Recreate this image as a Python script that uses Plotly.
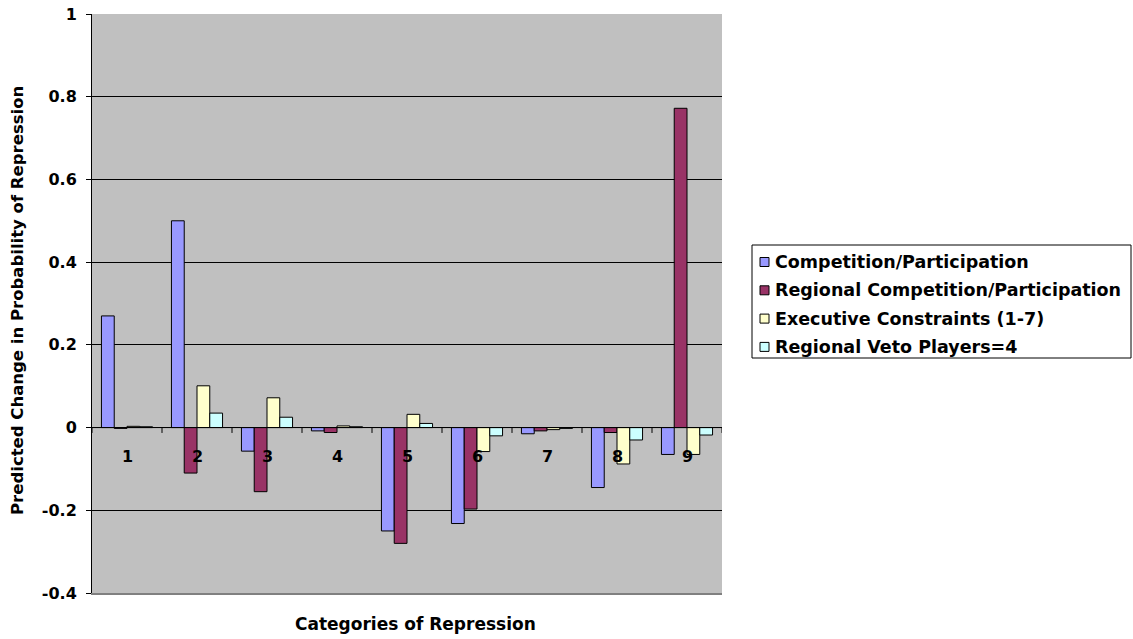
import plotly.graph_objects as go

categories = [1, 2, 3, 4, 5, 6, 7, 8, 9]
competition = [0.27, 0.50, -0.057, -0.008, -0.250, -0.232, -0.015, -0.145, -0.065]
regional_competition = [-0.002, -0.110, -0.155, -0.012, -0.280, -0.197, -0.008, -0.012, 0.772]
executive_constraints = [0.003, 0.101, 0.072, 0.004, 0.032, -0.058, -0.005, -0.088, -0.065]
regional_veto = [0.002, 0.035, 0.025, 0.002, 0.010, -0.020, -0.002, -0.030, -0.018]

y_tick_values = [-0.4, -0.2, 0, 0.2, 0.4, 0.6, 0.8, 1.0]
y_tick_labels = ["-0.4", "-0.2", "0", "0.2", "0.4", "0.6", "0.8", "1"]

series_names = [
    "Competition/Participation",
    "Regional Competition/Participation",
    "Executive Constraints (1-7)",
    "Regional Veto Players=4",
]
series_values = [competition, regional_competition, executive_constraints, regional_veto]
series_colors = ["#9999FF", "#993366", "#FFFFCC", "#CCFFFF"]

FONT = "DejaVu Sans"
W, H = 1133, 639
ML, MR, MT, MB = 92, 411, 14, 46
PW, PH = W - ML - MR, H - MT - MB


def px_x(px):
    """pixel column -> paper x"""
    return (px - ML) / PW


def px_y(py):
    """pixel row -> paper y"""
    return (H - MB - py) / PH


fig = go.Figure()
for name, vals, color in zip(series_names, series_values, series_colors):
    fig.add_trace(go.Bar(
        x=categories, y=vals, name=name, showlegend=False,
        marker=dict(color=color, line=dict(color="black", width=1)),
    ))

# category labels just under the zero line
for c in categories:
    fig.add_annotation(x=c, y=0, yshift=-29, text=f"<b>{c}</b>", showarrow=False,
                       font=dict(family=FONT, size=16, color="black"))

# zero axis with tick marks between categories
fig.add_shape(type="line", xref="x", yref="y", x0=0.5, x1=9.5, y0=0, y1=0,
              line=dict(color="black", width=1))
for b in [c - 0.5 for c in categories] + [categories[-1] + 0.5]:
    fig.add_shape(type="line", xref="x", yref="y", x0=b, x1=b, y0=0, y1=-0.013,
                  line=dict(color="black", width=1))

# axis titles
fig.add_annotation(xref="paper", yref="paper", x=px_x(17), y=px_y(301),
                   text="<b>Predicted Change in Probability of Repression</b>",
                   textangle=-90, showarrow=False, xanchor="center", yanchor="middle",
                   font=dict(family=FONT, size=16.5, color="black"))
fig.add_annotation(xref="paper", yref="paper", x=px_x(415), y=px_y(624),
                   text="<b>Categories of Repression</b>",
                   showarrow=False, xanchor="center", yanchor="middle",
                   font=dict(family=FONT, size=17, color="black"))

# legend box
fig.add_shape(type="rect", xref="paper", yref="paper",
              x0=px_x(752), x1=px_x(1131), y0=px_y(358), y1=px_y(245),
              line=dict(color="black", width=1), fillcolor="white", layer="below")
for i, (name, color) in enumerate(zip(series_names, series_colors)):
    cy = 262 + 28.3 * i
    fig.add_shape(type="rect", xref="paper", yref="paper",
                  x0=px_x(760), x1=px_x(769), y0=px_y(cy + 4.5), y1=px_y(cy - 4.5),
                  line=dict(color="black", width=1), fillcolor=color)
    fig.add_annotation(xref="paper", yref="paper", x=px_x(773), y=px_y(cy),
                       text=f"<b>{name}</b>", showarrow=False,
                       xanchor="left", yanchor="middle",
                       font=dict(family=FONT, size=17.5, color="black"))

fig.update_layout(
    width=W, height=H,
    margin=dict(l=ML, r=MR, t=MT, b=MB, autoexpand=False),
    paper_bgcolor="white",
    plot_bgcolor="#C0C0C0",
    barmode="group",
    bargap=0.27,
    bargroupgap=0,
    font=dict(family=FONT, size=16, color="black"),
    showlegend=False,
    xaxis=dict(
        range=[0.5, 9.5], showticklabels=False, ticks="",
        showgrid=False, zeroline=False,
        showline=True, linecolor="#808080", linewidth=2,
    ),
    yaxis=dict(
        range=[-0.4, 1.0],
        tickmode="array", tickvals=y_tick_values, ticktext=y_tick_labels,
        showgrid=True, gridcolor="black", gridwidth=1,
        zeroline=False,
        showline=True, linecolor="black", linewidth=1,
        ticks="outside", ticklen=5, tickcolor="black",
        ticklabelstandoff=6,
        tickfont=dict(family=FONT, size=16, weight="bold"),
    ),
)

fig.write_html("out.html")
